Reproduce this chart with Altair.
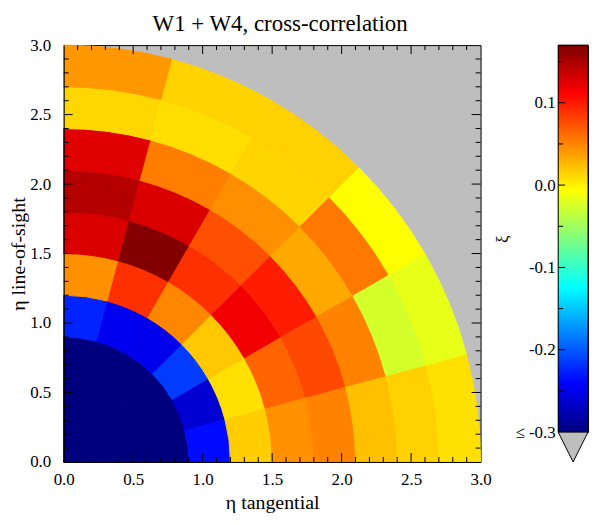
import math
import altair as alt
import pandas as pd

# ---------------- data ----------------
r_edges = [0.0, 0.3, 0.6, 0.9, 1.2, 1.5, 1.8, 2.1, 2.4, 2.7, 3.0]
phi_edges = [0, 15, 30, 45, 60, 75, 90]  # degrees from the tangential axis

# xi per ring, angular bins 0-15, 15-30, ..., 75-90 deg
xi_r0 = [-0.30, -0.30, -0.30, -0.30, -0.30, -0.30]
xi_r1 = [-0.30, -0.30, -0.30, -0.30, -0.30, -0.30]
xi_r2 = [-0.30, -0.30, -0.30, -0.30, -0.30, -0.30]
xi_r3 = [-0.236, -0.262, -0.214, -0.250, -0.248, -0.225]
xi_r4 = [0.017, 0.008, 0.019, 0.049, 0.089, 0.045]
xi_r5 = [0.045, 0.065, 0.118, 0.089, 0.168, 0.128]
xi_r6 = [0.051, 0.078, 0.098, 0.075, 0.128, 0.145]
xi_r7 = [0.023, 0.051, 0.034, 0.046, 0.053, 0.125]
xi_r8 = [0.015, -0.026, 0.056, 0.013, 0.009, 0.012]
xi_r9 = [0.008, -0.017, -0.006, 0.015, 0.014, 0.041]
rings = [xi_r0, xi_r1, xi_r2, xi_r3, xi_r4, xi_r5, xi_r6, xi_r7, xi_r8, xi_r9]

axis_labels = [0.0, 0.5, 1.0, 1.5, 2.0, 2.5, 3.0]
major_ticks = [0.5, 1.0, 1.5, 2.0, 2.5]
minor_ticks = [0.1, 0.2, 0.3, 0.4, 0.6, 0.7, 0.8, 0.9, 1.1, 1.2, 1.3, 1.4,
               1.6, 1.7, 1.8, 1.9, 2.1, 2.2, 2.3, 2.4, 2.6, 2.7, 2.8, 2.9]

xi_lo, xi_hi = -0.30, 0.17
cb_labels = [-0.3, -0.2, -0.1, 0.0, 0.1]
cb_major = [-0.2, -0.1, 0.0, 0.1]
cb_minor = [-0.25, -0.15, -0.05, 0.05, 0.15]

# jet colour map
cmap_pos = [0.0, 0.125, 0.375, 0.625, 0.875, 1.0]
cmap_colors = ["#00007f", "#0000ff", "#00ffff", "#ffff00", "#ff0000", "#7f0000"]

rows = []
for i, ring in enumerate(rings):
    for j, v in enumerate(ring):
        rows.append(dict(r0=r_edges[i], r1=r_edges[i + 1],
                         p0=phi_edges[j], p1=phi_edges[j + 1], xi=v))
cells = pd.DataFrame(rows)

# ---------------- styles ----------------
SERIF = "Liberation Serif"
W = 419
CBW = 30
CBH = 389
GRAY = "#bebebe"

xs = alt.Scale(domain=[0, 3], nice=False, zero=False)
ys = alt.Scale(domain=[0, 3], nice=False, zero=False)
cdom = [xi_lo + p * (xi_hi - xi_lo) for p in cmap_pos]
cscale = alt.Scale(domain=cdom, range=cmap_colors, interpolate="rgb", clamp=True)

x_axis = alt.Axis(values=axis_labels, format=".1f", ticks=False, grid=False,
                  domain=True, domainColor="black", domainWidth=1,
                  labelFont=SERIF, labelFontSize=17, labelColor="black",
                  labelPadding=10, labelFlush=False,
                  title="η tangential", titleFont=SERIF, titleFontSize=20,
                  titleFontWeight="normal", titleColor="black", titlePadding=5,
                  zindex=1)
y_axis = alt.Axis(values=axis_labels, format=".1f", ticks=False, grid=False,
                  domain=True, domainColor="black", domainWidth=1,
                  labelFont=SERIF, labelFontSize=17, labelColor="black",
                  labelPadding=13, labelFlush=False,
                  title="η line-of-sight", titleFont=SERIF, titleFontSize=20,
                  titleFontWeight="normal", titleColor="black", titlePadding=1,
                  zindex=1)

arcs = alt.Chart(cells).mark_arc(strokeWidth=1).encode(
    x=alt.XDatum(0, type="quantitative", scale=xs, axis=x_axis),
    y=alt.YDatum(0, type="quantitative", scale=ys, axis=y_axis),
    theta=alt.Theta("p0:Q", scale=alt.Scale(domain=[0, 90], range=[math.pi / 2, 0]),
                    stack=False),
    theta2=alt.Theta2("p1:Q"),
    radius=alt.Radius("r1:Q", scale=alt.Scale(type="linear", domain=[0, 3],
                                              range=[0, W], zero=True, nice=False)),
    radius2=alt.Radius2("r0:Q"),
    color=alt.Color("xi:Q", scale=cscale, legend=None),
    stroke=alt.Stroke("xi:Q", scale=cscale, legend=None),
)


def ticks(vals, length, side):
    base = alt.Chart(pd.DataFrame({"t": vals})).mark_rule(color="black", strokeWidth=1)
    if side == "bottom":
        return base.encode(x=alt.X("t:Q", scale=xs, axis=x_axis),
                           y=alt.value(W), y2=alt.value(W - length))
    if side == "top":
        return base.encode(x=alt.X("t:Q", scale=xs, axis=x_axis),
                           y=alt.value(0), y2=alt.value(length))
    if side == "left":
        return base.encode(y=alt.Y("t:Q", scale=ys, axis=y_axis),
                           x=alt.value(0), x2=alt.value(length))
    return base.encode(y=alt.Y("t:Q", scale=ys, axis=y_axis),
                       x=alt.value(W), x2=alt.value(W - length))


tick_layers = []
for side in ["bottom", "top", "left", "right"]:
    tick_layers.append(ticks(major_ticks, 9, side))
    tick_layers.append(ticks(minor_ticks, 5, side))

main = alt.layer(arcs, *tick_layers).properties(
    width=W, height=W,
    title=alt.TitleParams("W1 + W4, cross-correlation", font=SERIF, fontSize=23,
                          fontWeight="normal", color="black", anchor="middle",
                          frame="group", dx=8, offset=0),
)

# ---------------- colour bar ----------------
cbs = alt.Scale(domain=[xi_lo, xi_hi], nice=False, zero=False)
grad = alt.Gradient(gradient="linear",
                    stops=[alt.GradientStop(color=c, offset=p)
                           for c, p in zip(cmap_colors, cmap_pos)],
                    x1=0, x2=0, y1=1, y2=0)
cb_axis = alt.Axis(values=cb_labels, ticks=False, domain=False, grid=False,
                   labelExpr="datum.value < -0.29 ? '≤ -0.3' : (datum.value < 0 ? '-' : '') + format(abs(datum.value), '.1f')",
                   labelFont=SERIF, labelFontSize=17, labelColor="black",
                   labelPadding=3, labelFlush=False,
                   title="ξ", titleFont=SERIF, titleFontSize=17,
                   titleFontWeight="normal", titleColor="black", titlePadding=3)

bar = alt.Chart(pd.DataFrame({"lo": [xi_lo], "hi": [xi_hi]})).mark_rect(
    fill=grad, stroke="black", strokeWidth=1).encode(
    y=alt.Y("lo:Q", scale=cbs, axis=cb_axis), y2="hi:Q",
    x=alt.value(0), x2=alt.value(CBW))


def cb_ticks(vals, length):
    return alt.Chart(pd.DataFrame({"t": vals})).mark_rule(color="black", strokeWidth=1).encode(
        y=alt.Y("t:Q", scale=cbs, axis=cb_axis), x=alt.value(0), x2=alt.value(length))


tri = alt.Chart(pd.DataFrame({"lo": [xi_lo]})).mark_point(
    shape="M -1 -1 L 1 -1 L 0 1 Z", filled=True, fill=GRAY, stroke="black",
    strokeWidth=1, size=CBW * CBW, opacity=1).encode(
    x=alt.value(CBW / 2), y=alt.value(CBH + CBW / 2))

colorbar = alt.layer(bar, cb_ticks(cb_major, 7), cb_ticks(cb_minor, 5), tri).properties(
    width=CBW, height=CBH)

chart = alt.hconcat(main, colorbar, spacing=78, bounds="flush").configure(
    font=SERIF, background="white"
).configure_view(
    fill=GRAY, stroke="black", strokeWidth=1
).properties(
    padding={"left": 0, "top": 3, "right": 1, "bottom": 0})

chart.save("out.html", embed_options={"renderer": "svg", "actions": False})
